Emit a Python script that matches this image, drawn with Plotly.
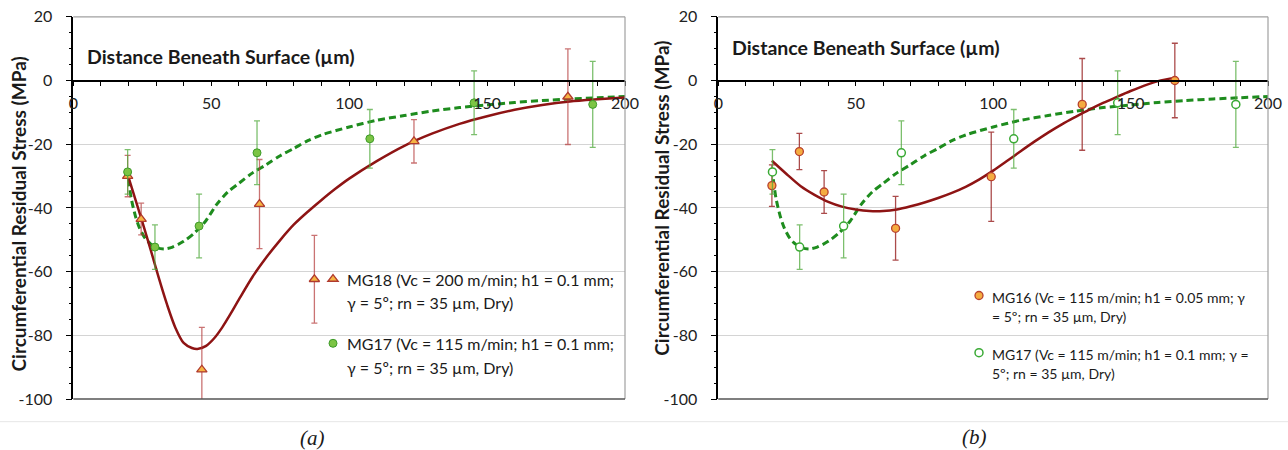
import plotly.graph_objects as go

# full 1288x450 page; the body margin is removed by a small post script
OFF = 0
W, H = 1288, 450


def fx(p):  # page pixel x -> paper fraction
    return (p - OFF) / W


def fy(p):  # page pixel y -> paper fraction
    return 1 - (p - OFF) / H


# ---------------- data ----------------
# Panel (a) measured points
mg18_x = [19.7, 24.6, 46.6, 67.5, 87.4, 123.5, 179.3]
mg18_y = [-30.0, -43.5, -90.8, -38.8, -62.4, -19.1, -5.1]
mg18_err = [6.5, 5.0, 13.3, 14.0, 13.8, 6.8, 15.0]

mg17_x = [19.7, 29.6, 45.6, 66.6, 107.5, 145.3, 188.3]
mg17_y = [-28.7, -52.3, -45.7, -22.7, -18.3, -7.0, -7.5]
mg17_err = [7.0, 7.0, 10.0, 10.0, 9.2, 10.0, 13.5]

# Panel (b) measured points
mg16_x = [19.5, 29.5, 38.5, 64.5, 99.3, 132.4, 166.1]
mg16_y = [-33.0, -22.3, -35.0, -46.4, -30.2, -7.5, 0.0]
mg16_err = [6.5, 5.7, 6.7, 10.0, 14.0, 14.4, 11.7]

# fitted curves
fit18_x = [20, 25, 28, 31, 34, 37, 40, 43, 45, 48, 51, 54, 57, 60, 65, 70, 75, 80,
           85, 90, 95, 100, 110, 120, 130, 140, 150, 160, 170, 180, 190, 200]
fit18_y = [-30.3, -44.3, -53.0, -62.0, -70.4, -77.6, -82.4, -84.0, -84.3, -83.4,
           -81.0, -77.5, -73.3, -68.8, -61.6, -55.5, -50.1, -45.2, -41.2, -37.5,
           -34.0, -30.8, -25.3, -20.5, -16.7, -13.6, -11.2, -9.2, -7.7, -6.6, -5.9, -5.3]

fit17_x = [20, 21, 22.5, 24, 26, 28, 30, 33, 36, 40, 44, 48, 52, 56, 60, 65, 70,
           75, 80, 85, 90, 100, 110, 120, 130, 140, 150, 160, 170, 180, 190, 200]
fit17_y = [-31.0, -37.0, -42.5, -46.3, -49.5, -51.3, -52.4, -52.9, -52.3, -50.5,
           -47.8, -44.1, -38.9, -35.0, -32.3, -29.0, -26.4, -23.6, -21.3, -18.9,
           -17.1, -14.6, -12.5, -11.0, -9.6, -8.5, -7.7, -6.9, -6.3, -5.8, -5.4, -5.0]

fit16_x = [19.5, 25, 30, 35, 40, 45, 50, 55, 60, 65, 70, 75, 80, 85, 90, 95, 100,
           105, 110, 115, 120, 125, 130, 135, 140, 145, 150, 155, 160, 166.5]
fit16_y = [-25.2, -29.5, -33.2, -35.9, -38.1, -39.6, -40.5, -41.0, -41.0, -40.5,
           -39.5, -38.3, -36.9, -35.3, -33.4, -31.05, -28.3, -25.3, -22.2, -19.2,
           -16.35, -13.75, -11.4, -9.15, -7.05, -5.15, -3.3, -1.6, -0.2, 0.9]

x_ticks = [0, 50, 100, 150, 200]
y_ticks = [20, 0, -20, -40, -60, -80, -100]

leg18 = ["MG18 (Vc = 200 m/min; h1 = 0.1 mm;", "γ = 5º; rn = 35 µm, Dry)"]
leg17a = ["MG17 (Vc = 115 m/min; h1 = 0.1 mm;", "γ = 5º; rn = 35 µm, Dry)"]
leg16 = ["MG16 (Vc = 115 m/min; h1 = 0.05 mm; γ", "= 5º; rn = 35 µm, Dry)"]
leg17b = ["MG17 (Vc = 115 m/min; h1 = 0.1 mm; γ =", "5º; rn = 35 µm, Dry)"]
y_title = "Circumferential Residual Stress (MPa)"
x_title = "Distance Beneath Surface (µm)"

# ---------------- styles ----------------
FONT = "Lato, 'Open Sans', sans-serif"
SERIF = "'Liberation Serif', 'DejaVu Serif', serif"
DARKRED = "#8E1414"
GREEN = "#1E8C1E"
TXT = "#1a1a1a"

fig = go.Figure()


def curve(x, y, color, width, dash, xa, ya):
    fig.add_trace(go.Scatter(x=x, y=y, mode="lines", line_shape="spline",
                             line=dict(color=color, width=width, dash=dash, smoothing=0.8),
                             showlegend=False, xaxis=xa, yaxis=ya, hoverinfo="skip"))


def points(x, y, err, marker, errcolor, legend, xa, ya):
    fig.add_trace(go.Scatter(x=x, y=y, mode="markers", name=" ", legend=legend,
                             showlegend=True, marker=marker,
                             error_y=dict(type="data", array=err, color=errcolor,
                                          thickness=1.3, width=3),
                             xaxis=xa, yaxis=ya))


m18 = dict(symbol="triangle-up", size=9, color="#F6B443", line=dict(color="#B03A2E", width=1.3))
m17a = dict(symbol="circle", size=8, color="#7CC444", line=dict(color="#3E9B2B", width=1))
m16 = dict(symbol="circle", size=8, color="#F5AC40", line=dict(color="#B8412E", width=1.3))
m17b = dict(symbol="circle", size=8, color="white", line=dict(color="#3AAA35", width=1.5))

# Panel (a)
curve(fit17_x, fit17_y, GREEN, 3, "7px,4px", "x", "y")
curve(fit18_x, fit18_y, DARKRED, 2.5, "solid", "x", "y")
points(mg18_x, mg18_y, mg18_err, m18, "rgba(180,55,55,0.7)", "legend", "x", "y")
points(mg17_x, mg17_y, mg17_err, m17a, "rgba(80,170,60,0.75)", "legend2", "x", "y")
# Panel (b)
curve(fit17_x, fit17_y, GREEN, 3, "7px,4px", "x2", "y2")
curve(fit16_x, fit16_y, DARKRED, 2.5, "solid", "x2", "y2")
points(mg16_x, mg16_y, mg16_err, m16, "rgba(150,30,30,0.8)", "legend3", "x2", "y2")
points(mg17_x, mg17_y, mg17_err, m17b, "rgba(80,170,60,0.75)", "legend4", "x2", "y2")

# ---------------- axes ----------------
ydom = [fy(399), fy(16.8)]
zero_pos = ydom[0] + (0 - (-100)) / 120 * (ydom[1] - ydom[0])


def xaxis_cfg(dom):
    return dict(domain=dom, anchor="free", position=zero_pos, range=[0, 200],
                automargin=False, ticklabeloverflow="allow",
                tickvals=x_ticks, ticktext=[str(v) for v in x_ticks],
                ticks="outside", ticklen=5, tickwidth=1, tickcolor="black",
                minor=dict(dtick=10, tick0=0, ticks="outside", ticklen=5, tickcolor="black"),
                showline=True, linecolor="black", linewidth=1.5, showgrid=False,
                zeroline=False, ticklabelstandoff=4,
                tickfont=dict(family=FONT, size=16, color="#222"))


def yaxis_cfg(anchor):
    return dict(domain=ydom, anchor=anchor, range=[-100, 20],
                tickvals=y_ticks, ticktext=[str(v) for v in y_ticks],
                automargin=False, ticklabeloverflow="allow",
                ticks="outside", ticklen=6, tickcolor="black",
                minor=dict(dtick=5, tick0=0, ticks="outside", ticklen=3, tickcolor="black"),
                showline=True, linecolor="black", linewidth=1.5,
                showgrid=True, gridcolor="#d4d4d4", gridwidth=1.3, zeroline=False,
                ticklabelstandoff=10,
                tickfont=dict(family=FONT, size=16, color="#222"))


def legend_cfg(px, py):
    # single-entry legend: symbol centre lands ~21px right of the legend's left edge
    return dict(x=fx(px - 21), y=fy(py), xanchor="left", yanchor="middle",
                bgcolor="rgba(0,0,0,0)", font=dict(family=FONT, size=12, color=TXT),
                itemclick=False, itemdoubleclick=False)


fig.update_layout(
    width=W, height=H, margin=dict(l=0, r=0, t=0, b=0, autoexpand=False),
    paper_bgcolor="white", plot_bgcolor="white",
    font=dict(family=FONT, color=TXT),
    xaxis=xaxis_cfg([fx(73.3), fx(625)]),
    yaxis=yaxis_cfg("x"),
    xaxis2=xaxis_cfg([fx(718.3), fx(1268)]),
    yaxis2=yaxis_cfg("x2"),
    legend=legend_cfg(334, 279),
    legend2=legend_cfg(334, 343.3),
    legend3=legend_cfg(980, 295.5),
    legend4=legend_cfg(980, 352.7),
)

shapes = []
for xr, yr in (("x", "y"), ("x2", "y2")):
    # plot-area border (top/right gray, bottom darker)
    shapes.append(dict(type="line", xref=f"{xr} domain", yref=f"{yr} domain",
                       x0=0, x1=1, y0=1, y1=1, line=dict(color="#a0a0a0", width=1.2)))
    shapes.append(dict(type="line", xref=f"{xr} domain", yref=f"{yr} domain",
                       x0=1, x1=1, y0=0, y1=1, line=dict(color="#a0a0a0", width=1.2)))
    shapes.append(dict(type="line", xref=f"{xr} domain", yref=f"{yr} domain",
                       x0=0, x1=1, y0=0, y1=0, line=dict(color="#555555", width=1.5)))
# legend backgrounds hiding gridlines
shapes.append(dict(type="rect", xref="paper", yref="paper", layer="between",
                   x0=fx(321), x1=fx(619), y0=fy(392), y1=fy(262),
                   fillcolor="white", line=dict(width=0)))
shapes.append(dict(type="rect", xref="paper", yref="paper", layer="between",
                   x0=fx(970), x1=fx(1256), y0=fy(390), y1=fy(280),
                   fillcolor="white", line=dict(width=0)))
# thin separator line above captions
shapes.append(dict(type="line", xref="paper", yref="paper", x0=0, x1=1,
                   y0=fy(421.7), y1=fy(421.7), line=dict(color="#e6e6e6", width=1)))
fig.update_layout(shapes=shapes)

annotations = [
    dict(text=f"<b>{y_title}</b>", x=fx(18.5), y=fy(214), textangle=-90,
         font=dict(family=FONT, size=19, color=TXT)),
    dict(text=f"<b>{y_title}</b>", x=fx(661.7), y=fy(198), textangle=-90,
         font=dict(family=FONT, size=19, color=TXT)),
    dict(text=f"<b>{x_title}</b>", x=fx(84.6), y=fy(56.5), xanchor="left",
         font=dict(family=FONT, size=19.5, color=TXT)),
    dict(text=f"<b>{x_title}</b>", x=fx(730), y=fy(47.5), xanchor="left",
         font=dict(family=FONT, size=19.5, color=TXT)),
    dict(text="<i>(a)</i>", x=fx(312.5), y=fy(438), font=dict(family=SERIF, size=21, color=TXT)),
    dict(text="<i>(b)</i>", x=fx(974.7), y=fy(437), font=dict(family=SERIF, size=21, color=TXT)),
]
# legend texts, one annotation per line
for lines, x0, ys, size in ((leg18, 344.5, (279, 302.7), 16),
                            (leg17a, 344.5, (343.3, 367.7), 16),
                            (leg16, 990, (297.3, 316.2), 14),
                            (leg17b, 990, (354.3, 373.3), 14)):
    for t, yy in zip(lines, ys):
        annotations.append(dict(text=t, x=fx(x0), y=fy(yy), xanchor="left",
                                font=dict(family=FONT, size=size, color=TXT)))

for a in annotations:
    a.update(xref="paper", yref="paper", showarrow=False)
    a.setdefault("xanchor", "center")
    a.setdefault("yanchor", "middle")
fig.update_layout(annotations=annotations)

fig.write_html("out.html", config={"displayModeBar": False},
               post_script="document.body.style.margin='0px';document.body.style.overflow='hidden';")
